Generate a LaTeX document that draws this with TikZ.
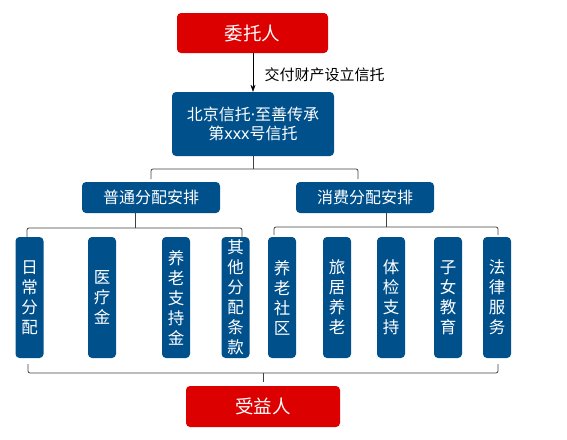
\documentclass[tikz,border=0pt]{standalone}
\usepackage{fontspec}
\newfontfamily\cjk{Noto Sans CJK SC}
\newfontfamily\latin{Noto Sans}
\usetikzlibrary{arrows.meta}
\definecolor{boxred}{HTML}{DD0000}
\definecolor{boxblue}{HTML}{00508C}
\definecolor{bracegray}{HTML}{404040}
\begin{document}
\begin{tikzpicture}[x=1pt,y=-1pt]
\tikzstyle{redbox}=[fill=boxred,rounded corners=4pt,text=white,font=\cjk\fontsize{18.5}{20}\selectfont,minimum width=151pt,minimum height=40pt,inner sep=0pt]
\tikzstyle{bluebox}=[fill=boxblue,rounded corners=4pt,text=white,font=\cjk\fontsize{16}{19}\selectfont,align=center,inner sep=0pt]
\tikzstyle{tallbox}=[bluebox,minimum width=28pt,minimum height=121pt,font=\cjk\fontsize{16.5}{20}\selectfont]
\tikzstyle{brace}=[draw=bracegray,line width=0.8pt,rounded corners=2pt]
\useasboundingbox (0,0) rectangle (567,439);

\path (252.5,33) node[redbox](wtr){委托人};
\path (253,124) node[bluebox,minimum width=162pt,minimum height=64pt](xt){北京信托{\latin ·}至善传承\\第{\latin xxx}号信托};
\draw[-{Stealth[length=7pt,width=5pt]}] (wtr.south -| xt.north) -- node[right,xshift=8pt,yshift=-2.5pt,font=\cjk\fontsize{15}{16}\selectfont]{交付财产设立信托} (xt.north);

\path (151,197.5) node[bluebox,minimum width=138pt,minimum height=31pt](pt){普通分配安排};
\path (365,197.5) node[bluebox,minimum width=138pt,minimum height=31pt](xf){消费分配安排};
\coordinate (b1l) at (151,179);
\coordinate (b1r) at (358,179);
\coordinate (b1m) at (253,169);
\draw[brace] (b1l) |- (b1m) -| (b1r);
\draw[brace] (xt.south) -- (b1m);

\path (29.5,297.5) node[tallbox](v1){日\\常\\分\\配};
\path (102,297.5) node[tallbox](v2){医\\疗\\金};
\path (176,297.5) node[tallbox](v3){养\\老\\支\\持\\金};
\path (235.5,297.5) node[tallbox](v4){其\\他\\分\\配\\条\\款};
\path (282,297.5) node[tallbox](v5){养\\老\\社\\区};
\path (337,297.5) node[tallbox](v6){旅\\居\\养\\老};
\path (391,297.5) node[tallbox](v7){体\\检\\支\\持};
\path (448,297.5) node[tallbox](v8){子\\女\\教\\育};
\path (497,297.5) node[tallbox](v9){法\\律\\服\\务};

\coordinate (b2l) at (27,238);
\coordinate (b2r) at (242,238);
\coordinate (b2m) at (135,228);
\draw[brace] (b2l) |- (b2m) -| (b2r);
\draw[brace] (b2m |- pt.south) -- (b2m);
\coordinate (b3l) at (274,235);
\coordinate (b3r) at (498,235);
\coordinate (b3m) at (386,227);
\draw[brace] (b3l) |- (b3m) -| (b3r);
\draw[brace] (b3m |- xf.south) -- (b3m);

\path (263,406.5) node[redbox,minimum width=154pt,minimum height=41pt](syr){受益人};
\coordinate (b4l) at (28,364);
\coordinate (b4r) at (498,364);
\coordinate (b4m) at (263,373);
\draw[brace] (b4l) |- (b4m) -| (b4r);
\draw[brace,shorten >=4pt] (b4m) -- (b4m |- syr.north);
\end{tikzpicture}
\end{document}
